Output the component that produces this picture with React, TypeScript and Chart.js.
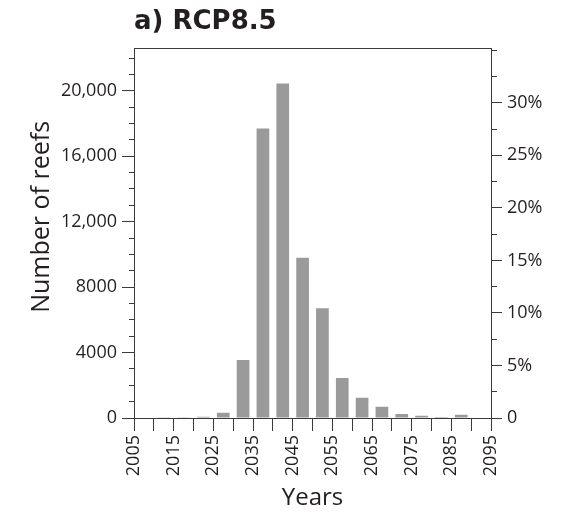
import React, { useEffect, useRef } from 'react';
import { Chart, registerables } from 'chart.js';

Chart.register(...registerables);

// ---- data ----
const TITLE = 'a) RCP8.5';
const X_TITLE = 'Years';
const Y_TITLE = 'Number of reefs';

// 5-year bins (start year of each bin)
const binStarts = [2005, 2010, 2015, 2020, 2025, 2030, 2035, 2040, 2045, 2050, 2055, 2060, 2065, 2070, 2075, 2080, 2085, 2090];
const reefCounts = [0, 40, 40, 80, 320, 3550, 17700, 20450, 9800, 6700, 2450, 1240, 690, 240, 130, 60, 200, 0];
const BIN_WIDTH = 5;

const yearMin = 2005;
const yearMax = 2095;
const yearTickValues = [2005, 2015, 2025, 2035, 2045, 2055, 2065, 2075, 2085, 2095];
const yearTickLabels = ['2005', '2015', '2025', '2035', '2045', '2055', '2065', '2075', '2085', '2095'];

const countMax = 22600;
const countMinorStep = 1000;
const countTickValues = [0, 4000, 8000, 12000, 16000, 20000];
const countTickLabels = ['0', '4000', '8000', '12,000', '16,000', '20,000'];

const pctMax = 35.2;
const pctTickValues = [0, 5, 10, 15, 20, 25, 30];
const pctTickLabels = ['0', '5%', '10%', '15%', '20%', '25%', '30%'];

// ---- styles ----
const axisColor = '#3a3a3a';
const textColor = '#231f20';
const barColor = '#9a9a9a';
const tickFont = { family: "'Open Sans', sans-serif", size: 18 };
const xTitleFont = { family: "'Open Sans', sans-serif", size: 24 };
const yTitleFont = { family: "'Open Sans', sans-serif", size: 25 };

function lookup(values: number[], labels: string[], v: number): string {
  for (let i = 0; i < values.length; i++) {
    if (Math.abs(values[i] - v) < 1e-6) return labels[i];
  }
  return '';
}

function isMajor(values: number[], v: number | undefined): boolean {
  if (v === undefined) return true;
  return values.some((t) => Math.abs(t - v) < 1e-6);
}

export default function App() {
  const canvasRef = useRef<HTMLCanvasElement | null>(null);

  useEffect(() => {
    const canvas = canvasRef.current;
    if (!canvas) return;
    const points = binStarts.map((s, i) => ({ x: s + BIN_WIDTH / 2, y: reefCounts[i] }));

    const chart = new Chart(canvas, {
      type: 'bar',
      data: {
        datasets: [
          {
            data: points as any,
            backgroundColor: barColor,
            borderWidth: 0,
            categoryPercentage: 0.8,
            barPercentage: 0.8,
            xAxisID: 'x',
            yAxisID: 'y',
          },
        ],
      },
      options: {
        responsive: false,
        animation: false,
        devicePixelRatio: 1,
        layout: { padding: 0 },
        plugins: {
          legend: { display: false },
          tooltip: { enabled: false },
          title: {
            display: true,
            text: TITLE,
            align: 'start',
            fullSize: false,
            color: textColor,
            font: { family: "'DejaVu Sans', sans-serif", size: 26, weight: 'bold' },
            padding: { top: 7, bottom: 10 },
          },
        },
        scales: {
          x: {
            type: 'linear',
            position: 'bottom',
            min: yearMin,
            max: yearMax,
            offset: false,
            grid: {
              offset: false,
              drawOnChartArea: false,
              drawTicks: true,
              tickLength: 13,
              color: axisColor,
              tickColor: axisColor,
            },
            border: { display: true, color: axisColor, width: 1 },
            ticks: {
              stepSize: 5,
              autoSkip: false,
              minRotation: 90,
              maxRotation: 90,
              padding: 4,
              color: textColor,
              font: tickFont,
              callback: (v: any) => lookup(yearTickValues, yearTickLabels, Number(v)),
            },
            title: {
              display: true,
              text: X_TITLE,
              color: textColor,
              font: xTitleFont,
              padding: { top: 0, bottom: 1 },
            },
            afterFit: (s: any) => {
              s.height = 96;
            },
          },
          xTop: {
            type: 'linear',
            position: 'top',
            min: yearMin,
            max: yearMax,
            offset: false,
            grid: { offset: false, drawOnChartArea: false, drawTicks: false },
            border: { display: true, color: axisColor, width: 1 },
            ticks: { display: false },
            afterFit: (s: any) => {
              s.height = 0;
            },
          },
          y: {
            type: 'linear',
            position: 'left',
            min: 0,
            max: countMax,
            grid: {
              drawOnChartArea: false,
              drawTicks: true,
              tickLength: 12,
              color: axisColor,
              tickColor: axisColor,
              tickBorderDash: (ctx: any) =>
                isMajor(countTickValues, ctx.tick ? ctx.tick.value : undefined) ? [] : [0, 7, 12],
            },
            border: { display: true, color: axisColor, width: 1 },
            afterBuildTicks: (s: any) => {
              const t: { value: number }[] = [];
              for (let v = 0; v <= countMax; v += countMinorStep) t.push({ value: v });
              s.ticks = t;
            },
            ticks: {
              autoSkip: false,
              padding: 5,
              color: textColor,
              font: tickFont,
              callback: (v: any) => lookup(countTickValues, countTickLabels, Number(v)),
            },
            title: {
              display: true,
              text: '     ' + Y_TITLE,
              color: textColor,
              font: yTitleFont,
              padding: { top: 27, bottom: 0 },
            },
            afterFit: (s: any) => {
              s.width = 134;
            },
          },
          yR: {
            type: 'linear',
            position: 'right',
            min: 0,
            max: pctMax,
            grid: {
              drawOnChartArea: false,
              drawTicks: true,
              tickLength: 11,
              color: axisColor,
              tickColor: axisColor,
              tickBorderDash: (ctx: any) =>
                isMajor(pctTickValues, ctx.tick ? ctx.tick.value : undefined) ? [] : [5, 20],
            },
            border: { display: true, color: axisColor, width: 1 },
            ticks: {
              stepSize: 2.5,
              includeBounds: false,
              autoSkip: false,
              padding: 5,
              color: textColor,
              font: tickFont,
              callback: (v: any) => lookup(pctTickValues, pctTickLabels, Number(v)),
            },
            afterFit: (s: any) => {
              s.width = 76;
            },
          },
        },
      } as any,
    });

    return () => {
      chart.destroy();
    };
  }, []);

  return (
    <div style={{ position: 'absolute', left: 0, top: 0, width: 567, height: 514, background: '#fff' }}>
      <canvas ref={canvasRef} width={567} height={514} style={{ display: 'block', width: 567, height: 514 }} />
    </div>
  );
}
